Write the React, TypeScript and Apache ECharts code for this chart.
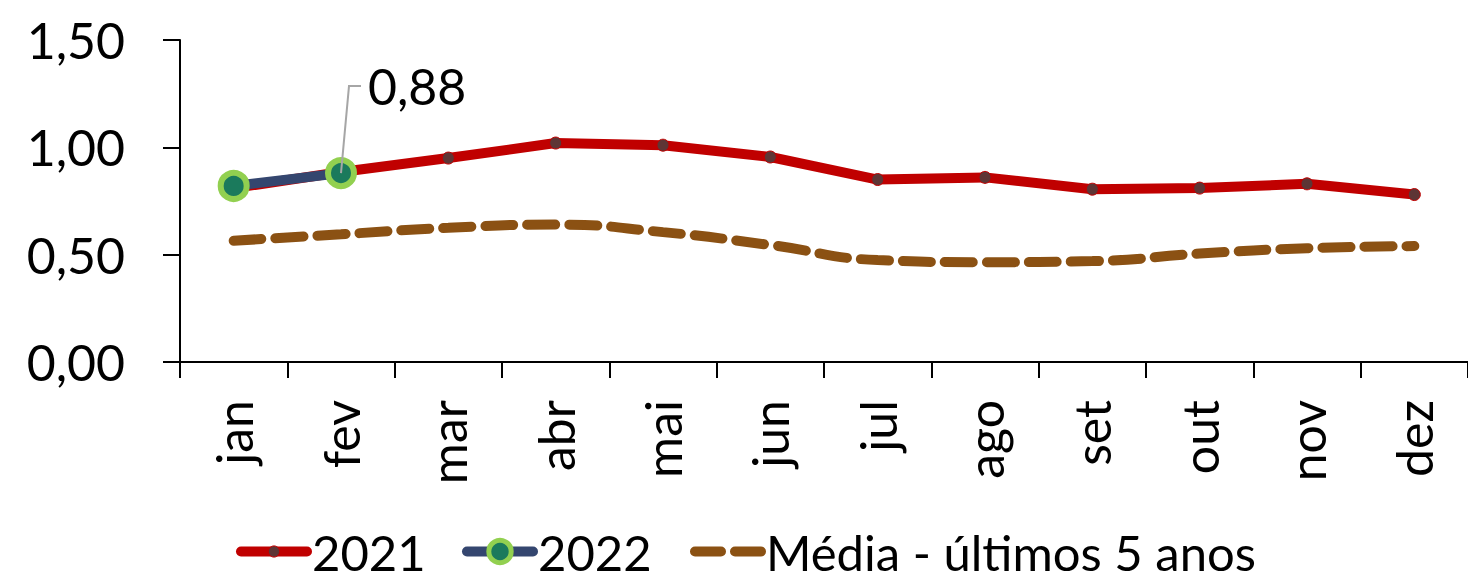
import React, { useEffect, useRef } from "react";
import * as echarts from "echarts";

const months = ["jan", "fev", "mar", "abr", "mai", "jun", "jul", "ago", "set", "out", "nov", "dez"];
const yTicks = [0, 0.5, 1.0, 1.5];
const s2021 = [0.81, 0.885, 0.95, 1.02, 1.01, 0.955, 0.85, 0.86, 0.805, 0.81, 0.83, 0.78];
const s2022 = [0.82, 0.88];
const media = [0.565, 0.595, 0.625, 0.64, 0.605, 0.545, 0.475, 0.465, 0.47, 0.505, 0.53, 0.54];
const annotIndex = 1;
const annotText = "0,88";

const FONT = "Lato, 'Open Sans', sans-serif";
const FS = 50;

const RED = "#C00000";
const NAVY = "#34466F";
const BROWN = "#8B5113";

export default function App() {
  const ref = useRef<HTMLDivElement>(null);
  useEffect(() => {
    if (!ref.current) return;
    const chart = echarts.init(ref.current, null, { renderer: "svg" });
    const fmt = (v: number) => v.toFixed(2).replace(".", ",");
    const legendText = { fontFamily: FONT, fontSize: 49, color: "#000", lineHeight: 42 };
    const LT = 527;
    chart.setOption({
      animation: false,
      backgroundColor: "#ffffff",
      grid: { left: 180, top: 40, bottom: 218, right: -6, containLabel: false },
      legend: [
        {
          left: 236,
          top: LT,
          itemWidth: 66,
          itemHeight: 14,
          padding: 0,
          textStyle: legendText,
          data: [
            {
              name: "2021",
              lineStyle: { color: RED, width: 10, cap: "round" },
              itemStyle: { color: "#5E3535", borderColor: RED, borderWidth: 1 },
            },
          ],
        },
        {
          left: 462,
          top: LT,
          itemWidth: 66,
          itemHeight: 28,
          padding: 0,
          textStyle: legendText,
          data: [
            {
              name: "2022",
              lineStyle: { color: NAVY, width: 10, cap: "round" },
              itemStyle: { color: "#1B7A5C", borderColor: "#92D050", borderWidth: 5 },
            },
          ],
        },
        {
          left: 690,
          top: LT,
          itemWidth: 66,
          itemHeight: 14,
          padding: 0,
          textStyle: legendText,
          data: [
            {
              name: "Média - últimos 5 anos",
              lineStyle: { color: BROWN, width: 10, type: [26, 14], cap: "round" },
              itemStyle: { opacity: 0 },
            },
          ],
        },
      ],
      xAxis: {
        type: "category",
        data: months,
        boundaryGap: true,
        axisLine: { lineStyle: { color: "#000", width: 2 } },
        axisTick: { show: true, length: 16, lineStyle: { color: "#000", width: 2 } },
        axisLabel: { rotate: 90, margin: 38, fontFamily: FONT, fontSize: FS, color: "#000", interval: 0 },
      },
      yAxis: {
        type: "value",
        min: yTicks[0],
        max: yTicks[yTicks.length - 1],
        interval: 0.5,
        axisLine: { show: true, lineStyle: { color: "#000", width: 2 } },
        axisTick: { show: true, length: 17, lineStyle: { color: "#000", width: 2 } },
        splitLine: { show: false },
        axisLabel: { margin: 55, fontFamily: FONT, fontSize: FS, color: "#000", formatter: fmt },
      },
      series: [
        {
          name: "Média - últimos 5 anos",
          type: "line",
          data: media,
          smooth: 0.5,
          showSymbol: false,
          symbol: "none",
          lineStyle: { color: BROWN, width: 10, type: [28, 14], cap: "round" },
          itemStyle: { color: BROWN },
          z: 1,
        },
        {
          name: "2021",
          type: "line",
          data: s2021,
          symbol: "circle",
          symbolSize: 12,
          lineStyle: { color: RED, width: 10 },
          itemStyle: { color: "#5E3535", borderColor: RED, borderWidth: 1 },
          z: 2,
        },
        {
          name: "2022",
          type: "line",
          data: s2022,
          symbol: "circle",
          symbolSize: 26,
          lineStyle: { color: NAVY, width: 10 },
          itemStyle: { color: "#1B7A5C", borderColor: "#92D050", borderWidth: 6 },
          z: 3,
        },
      ],
    });
    const p = chart.convertToPixel({ xAxisIndex: 0, yAxisIndex: 0 }, [annotIndex, s2022[annotIndex]]) as number[];
    if (p) {
      const top = p[1] - 87;
      chart.setOption({
        graphic: [
          {
            type: "polyline",
            shape: { points: [[p[0], p[1]], [p[0] + 8, top], [p[0] + 20, top]] },
            style: { stroke: "#A6A6A6", lineWidth: 2, fill: null },
            z: 10,
          },
          {
            type: "text",
            x: p[0] + 27,
            y: top,
            style: { text: annotText, font: `${FS}px ${FONT}`, fill: "#000", verticalAlign: "middle" },
            z: 10,
          },
        ],
      });
    }
    return () => chart.dispose();
  }, []);
  return <div ref={ref} style={{ position: "fixed", left: 0, top: 0, width: 1468, height: 580 }} />;
}
